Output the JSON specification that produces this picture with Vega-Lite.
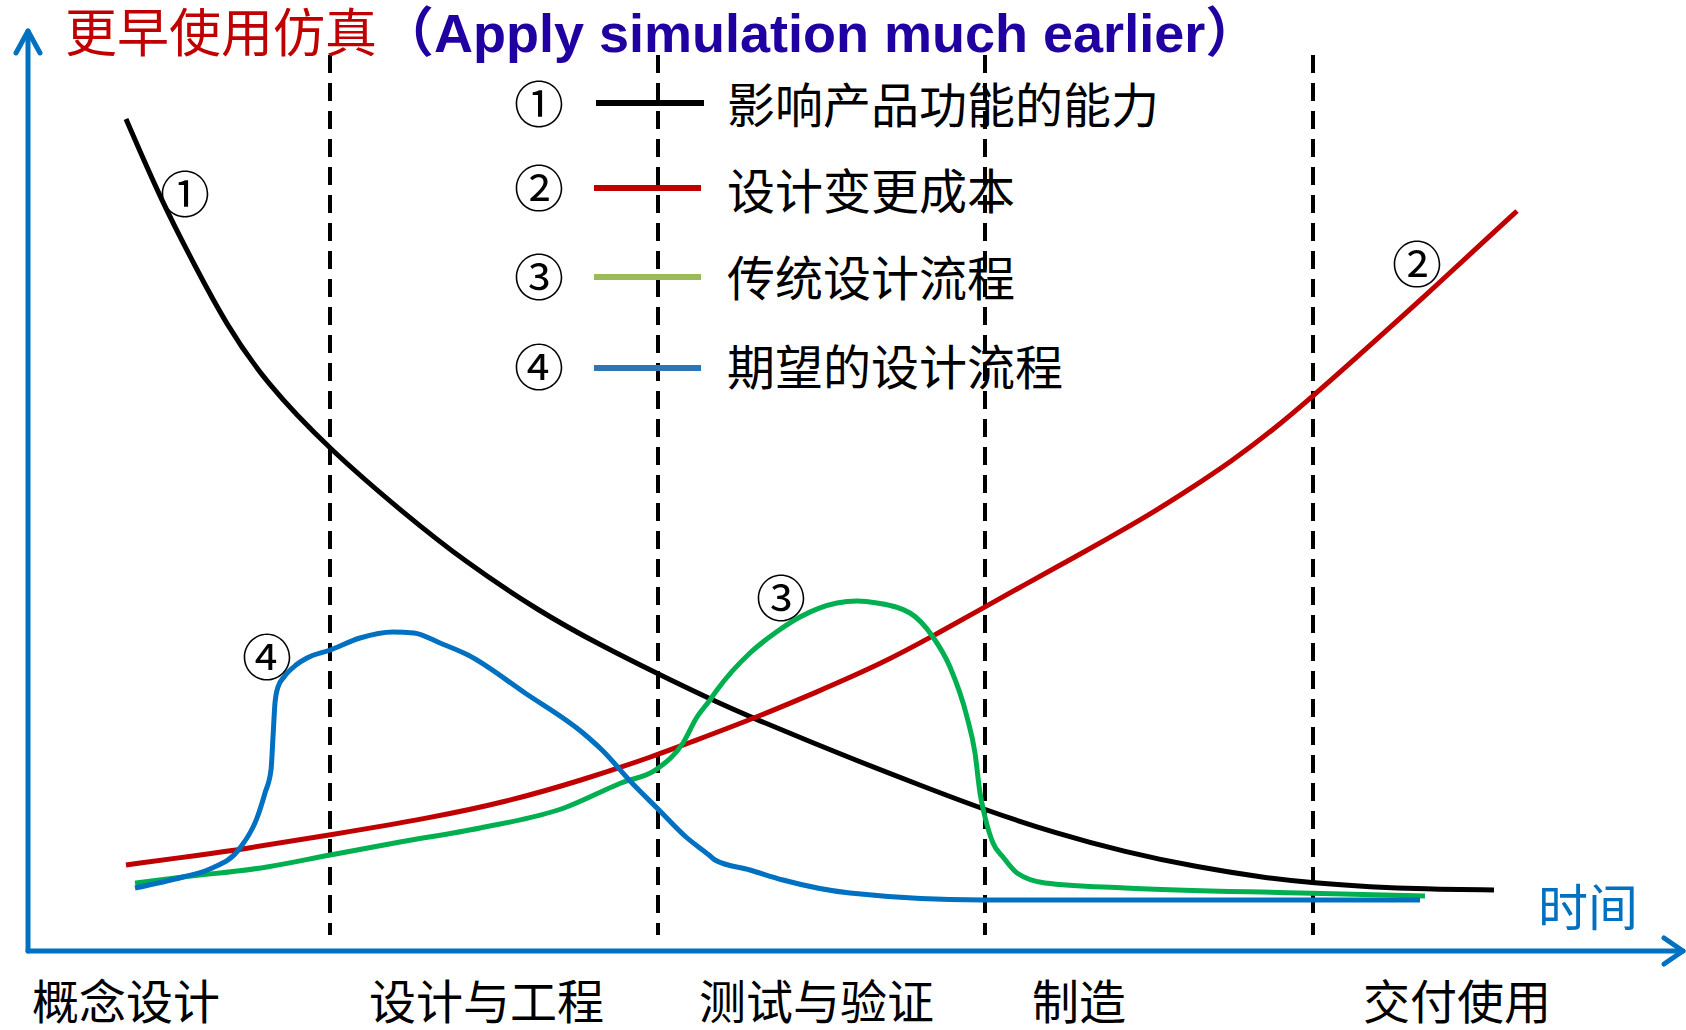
{
  "$schema": "https://vega.github.io/schema/vega-lite/v6.json",
  "width": 1686,
  "height": 1030,
  "autosize": {"type": "fit", "contains": "padding"},
  "padding": 0,
  "background": "white",
  "config": {"view": {"stroke": null}},
  "datasets": {
    "curves": [
      {"k":"c1","x":126,"y":911},{"k":"c1","x":161,"y":830},{"k":"c1","x":196,"y":762},{"k":"c1","x":226,"y":706},{"k":"c1","x":265,"y":648},{"k":"c1","x":330,"y":580},{"k":"c1","x":406,"y":515},{"k":"c1","x":464,"y":469},{"k":"c1","x":540,"y":418},{"k":"c1","x":600,"y":385},{"k":"c1","x":658,"y":356},{"k":"c1","x":710,"y":331},{"k":"c1","x":750,"y":313},{"k":"c1","x":850,"y":272},{"k":"c1","x":917,"y":246},{"k":"c1","x":985,"y":220},{"k":"c1","x":1055,"y":197},{"k":"c1","x":1125,"y":178},{"k":"c1","x":1196,"y":163},{"k":"c1","x":1266,"y":152},{"k":"c1","x":1313,"y":147},{"k":"c1","x":1371,"y":143},{"k":"c1","x":1423,"y":141},{"k":"c1","x":1494,"y":140},
      {"k":"c2","x":126,"y":165},{"k":"c2","x":200,"y":175},{"k":"c2","x":243,"y":181},{"k":"c2","x":330,"y":195},{"k":"c2","x":430,"y":212},{"k":"c2","x":506,"y":228},{"k":"c2","x":583,"y":250},{"k":"c2","x":657,"y":275},{"k":"c2","x":683,"y":285},{"k":"c2","x":750,"y":310},{"k":"c2","x":817,"y":338},{"k":"c2","x":883,"y":367},{"k":"c2","x":933,"y":394},{"k":"c2","x":985,"y":423},{"k":"c2","x":1024,"y":445},{"k":"c2","x":1066,"y":468},{"k":"c2","x":1107,"y":491},{"k":"c2","x":1149,"y":515},{"k":"c2","x":1190,"y":541},{"k":"c2","x":1232,"y":569},{"k":"c2","x":1273,"y":600},{"k":"c2","x":1313,"y":634},{"k":"c2","x":1356,"y":672},{"k":"c2","x":1397,"y":709},{"k":"c2","x":1439,"y":747},{"k":"c2","x":1480,"y":785},{"k":"c2","x":1517,"y":819},
      {"k":"c3","x":135,"y":147},{"k":"c3","x":183,"y":153},{"k":"c3","x":267,"y":163},{"k":"c3","x":330,"y":175},{"k":"c3","x":400,"y":188},{"k":"c3","x":480,"y":202},{"k":"c3","x":564,"y":222},{"k":"c3","x":621,"y":247},{"k":"c3","x":657,"y":261},{"k":"c3","x":683,"y":287},{"k":"c3","x":697,"y":313},{"k":"c3","x":710,"y":330},{"k":"c3","x":717,"y":340},{"k":"c3","x":750,"y":377},{"k":"c3","x":775,"y":397},{"k":"c3","x":800,"y":413},{"k":"c3","x":837,"y":427},{"k":"c3","x":857,"y":429},{"k":"c3","x":877,"y":427},{"k":"c3","x":910,"y":417},{"k":"c3","x":933,"y":393},{"k":"c3","x":950,"y":363},{"k":"c3","x":967,"y":313},{"k":"c3","x":975,"y":277},{"k":"c3","x":980,"y":237},{"k":"c3","x":985,"y":213},{"k":"c3","x":993,"y":187},{"k":"c3","x":1003,"y":173},{"k":"c3","x":1017,"y":157},{"k":"c3","x":1045,"y":147},{"k":"c3","x":1125,"y":142},{"k":"c3","x":1301,"y":137},{"k":"c3","x":1425,"y":134},
      {"k":"c4","x":135,"y":142},{"k":"c4","x":183,"y":153},{"k":"c4","x":210,"y":161},{"k":"c4","x":240,"y":182},{"k":"c4","x":257,"y":212},{"k":"c4","x":265,"y":237},{"k":"c4","x":271,"y":260},{"k":"c4","x":273,"y":293},{"k":"c4","x":275,"y":327},{"k":"c4","x":278,"y":343},{"k":"c4","x":284,"y":353},{"k":"c4","x":296,"y":365},{"k":"c4","x":307,"y":372},{"k":"c4","x":330,"y":380},{"k":"c4","x":360,"y":392},{"k":"c4","x":393,"y":398},{"k":"c4","x":414,"y":397},{"k":"c4","x":440,"y":387},{"k":"c4","x":468,"y":375},{"k":"c4","x":525,"y":337},{"k":"c4","x":583,"y":297},{"k":"c4","x":602,"y":280},{"k":"c4","x":632,"y":247},{"k":"c4","x":659,"y":220},{"k":"c4","x":686,"y":193},{"k":"c4","x":709,"y":175},{"k":"c4","x":715,"y":170},{"k":"c4","x":750,"y":160},{"k":"c4","x":783,"y":150},{"k":"c4","x":850,"y":137},{"k":"c4","x":983,"y":130},{"k":"c4","x":1100,"y":130},{"k":"c4","x":1250,"y":130},{"k":"c4","x":1420,"y":130}
    ],
    "dividers": [
      {"x":330,"top":975,"bottom":95},{"x":658,"top":975,"bottom":95},{"x":985,"top":975,"bottom":95},{"x":1313,"top":975,"bottom":95}
    ],
    "axes": [
      {"part":"xline","o":1,"x":28,"y":79},{"part":"xline","o":2,"x":1683,"y":79},
      {"part":"xhead","o":1,"x":1664,"y":92},{"part":"xhead","o":2,"x":1683,"y":79},{"part":"xhead","o":3,"x":1664,"y":66},
      {"part":"yline","o":1,"x":28,"y":79},{"part":"yline","o":2,"x":28,"y":999},
      {"part":"yhead","o":1,"x":16,"y":977},{"part":"yhead","o":2,"x":28,"y":999},{"part":"yhead","o":3,"x":40,"y":977}
    ],
    "legendLines": [
      {"k":"l1","x1":596,"x2":704,"y":927},{"k":"l2","x1":594,"x2":701,"y":842},{"k":"l3","x1":594,"x2":701,"y":753},{"k":"l4","x1":594,"x2":701,"y":662}
    ],
    "legendLabels": [
      {"t":"影响产品功能的能力","x":727,"y":907},{"t":"设计变更成本","x":727,"y":821},{"t":"传统设计流程","x":727,"y":734},{"t":"期望的设计流程","x":727,"y":645}
    ],
    "circled": [
      {"t":"①","x":539,"y":922},{"t":"②","x":539,"y":838},{"t":"③","x":539,"y":749},{"t":"④","x":539,"y":659},
      {"t":"①","x":185,"y":832},{"t":"②","x":1417,"y":762},{"t":"③","x":781,"y":428},{"t":"④","x":267,"y":369}
    ],
    "phases": [
      {"t":"概念设计","x":32,"y":11},{"t":"设计与工程","x":369,"y":11},{"t":"测试与验证","x":699,"y":11},{"t":"制造","x":1032,"y":11},{"t":"交付使用","x":1363,"y":11}
    ]
  },
  "layer": [
    {
      "data": {"name": "dividers"},
      "mark": {"type": "rule", "color": "#000000", "strokeWidth": 4, "strokeDash": [18, 10]},
      "encoding": {
        "x": {"field": "x", "type": "quantitative", "scale": {"domain": [0, 1686], "nice": false, "zero": false}, "axis": null},
        "y": {"field": "top", "type": "quantitative", "scale": {"domain": [0, 1030], "nice": false, "zero": false}, "axis": null},
        "y2": {"field": "bottom"}
      }
    },
    {
      "data": {"name": "axes"},
      "mark": {"type": "line", "color": "#0070C0", "strokeWidth": 5, "strokeJoin": "round", "strokeCap": "round"},
      "encoding": {
        "x": {"field": "x", "type": "quantitative", "axis": null},
        "y": {"field": "y", "type": "quantitative", "axis": null},
        "detail": {"field": "part"},
        "order": {"field": "o"}
      }
    },
    {
      "data": {"name": "curves"},
      "transform": [{"filter": "datum.k === 'c1' || datum.k === 'c2'"}],
      "mark": {"type": "line", "strokeWidth": 5, "interpolate": "basis", "strokeCap": "butt"},
      "encoding": {
        "x": {"field": "x", "type": "quantitative", "axis": null},
        "y": {"field": "y", "type": "quantitative", "axis": null},
        "color": {"field": "k", "type": "nominal", "scale": {"domain": ["c1", "c2", "c3", "c4"], "range": ["#000000", "#C00000", "#00B050", "#0070C0"]}, "legend": null},
        "order": {"field": "x"}
      }
    },
    {
      "data": {"name": "curves"},
      "transform": [{"filter": "datum.k === 'c3' || datum.k === 'c4'"}],
      "mark": {"type": "line", "strokeWidth": 5, "interpolate": "monotone", "strokeCap": "butt"},
      "encoding": {
        "x": {"field": "x", "type": "quantitative", "axis": null},
        "y": {"field": "y", "type": "quantitative", "axis": null},
        "color": {"field": "k", "type": "nominal", "scale": {"domain": ["c1", "c2", "c3", "c4"], "range": ["#000000", "#C00000", "#00B050", "#0070C0"]}, "legend": null},
        "order": {"field": "x"}
      }
    },
    {
      "data": {"name": "legendLines"},
      "mark": {"type": "rule", "strokeWidth": 6},
      "encoding": {
        "x": {"field": "x1", "type": "quantitative", "axis": null},
        "x2": {"field": "x2"},
        "y": {"field": "y", "type": "quantitative", "axis": null},
        "stroke": {"field": "k", "type": "nominal", "scale": {"domain": ["l1", "l2", "l3", "l4"], "range": ["#000000", "#C00000", "#9BBB59", "#2E75B6"]}, "legend": null}
      }
    },
    {
      "data": {"name": "legendLabels"},
      "mark": {"type": "text", "align": "left", "baseline": "alphabetic", "font": "Noto Sans CJK SC", "fontSize": 48, "color": "#000000"},
      "encoding": {
        "x": {"field": "x", "type": "quantitative", "axis": null},
        "y": {"field": "y", "type": "quantitative", "axis": null},
        "text": {"field": "t"}
      }
    },
    {
      "data": {"name": "circled"},
      "mark": {"type": "text", "align": "center", "baseline": "middle", "font": "Noto Sans CJK SC", "fontSize": 50, "color": "#000000"},
      "encoding": {
        "x": {"field": "x", "type": "quantitative", "axis": null},
        "y": {"field": "y", "type": "quantitative", "axis": null},
        "text": {"field": "t"}
      }
    },
    {
      "data": {"name": "phases"},
      "mark": {"type": "text", "align": "left", "baseline": "alphabetic", "font": "Noto Sans CJK SC", "fontSize": 47, "color": "#000000"},
      "encoding": {
        "x": {"field": "x", "type": "quantitative", "axis": null},
        "y": {"field": "y", "type": "quantitative", "axis": null},
        "text": {"field": "t"}
      }
    },
    {
      "data": {"values": [{"t": "时间", "x": 1538, "y": 104}]},
      "mark": {"type": "text", "align": "left", "baseline": "alphabetic", "font": "Noto Sans CJK SC", "fontSize": 50, "color": "#0070C0"},
      "encoding": {
        "x": {"field": "x", "type": "quantitative", "axis": null},
        "y": {"field": "y", "type": "quantitative", "axis": null},
        "text": {"field": "t"}
      }
    },
    {
      "data": {"values": [{"t": "更早使用仿真", "x": 65, "y": 978}]},
      "mark": {"type": "text", "align": "left", "baseline": "alphabetic", "font": "Noto Sans CJK SC", "fontSize": 52, "color": "#C00000"},
      "encoding": {
        "x": {"field": "x", "type": "quantitative", "axis": null},
        "y": {"field": "y", "type": "quantitative", "axis": null},
        "text": {"field": "t"}
      }
    },
    {
      "data": {"values": [{"t": "（Apply simulation much earlier）", "x": 380, "y": 978}]},
      "mark": {"type": "text", "align": "left", "baseline": "alphabetic", "font": "Liberation Sans, Noto Sans CJK SC", "fontWeight": "bold", "fontSize": 54, "color": "#2000A0"},
      "encoding": {
        "x": {"field": "x", "type": "quantitative", "axis": null},
        "y": {"field": "y", "type": "quantitative", "axis": null},
        "text": {"field": "t"}
      }
    }
  ],
  "resolve": {"scale": {"color": "independent", "stroke": "independent"}}
}
